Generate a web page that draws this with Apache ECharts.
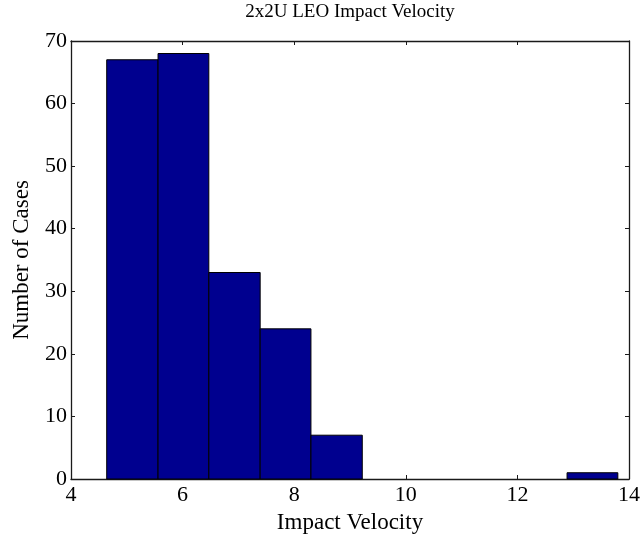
<!DOCTYPE html>
<html>
<head>
<meta charset="utf-8">
<script src="https://cdn.jsdelivr.net/npm/echarts@6/dist/echarts.min.js"></script>
<style>html,body{margin:0;padding:0;background:#fff;}#c{width:643px;height:543px;}</style>
</head>
<body>
<div id="c"></div>
<script>
var titleText = "2x2U LEO Impact Velocity";
var xName = "Impact Velocity";
var yName = "Number of Cases";
var binEdges = [4.64, 5.56, 6.47, 7.39, 8.30, 9.22, 10.14, 11.05, 11.97, 12.89, 13.80];
var counts = [67, 68, 33, 24, 7, 0, 0, 0, 0, 1];
var xTicks = [4, 6, 8, 10, 12, 14];
var yTicks = [0, 10, 20, 30, 40, 50, 60, 70];

var data = counts.map(function (c, i) { return [binEdges[i], binEdges[i + 1], c]; });
var font = "'Liberation Serif', 'Times New Roman', serif";
var chart = echarts.init(document.getElementById('c'), null, { renderer: 'canvas' });
var axisLine = { show: true, onZero: false, lineStyle: { color: '#1a1a1a', width: 1.3 } };
var tick = { show: true, inside: true, length: 4, lineStyle: { color: '#1a1a1a', width: 1 } };
chart.setOption({
  animation: false,
  backgroundColor: '#fff',
  title: { text: titleText, left: 350, textAlign: 'center', top: 3, padding: 0,
    textStyle: { fontFamily: font, fontSize: 19, fontWeight: 'normal', color: '#000' } },
  grid: { left: 71, right: 14, top: 41, bottom: 64 },
  xAxis: [
    { type: 'value', min: xTicks[0], max: xTicks[xTicks.length - 1], interval: 2, position: 'bottom',
      axisLine: axisLine, axisTick: tick, splitLine: { show: false },
      axisLabel: { color: '#000', fontFamily: font, fontSize: 22, margin: 5 },
      name: xName, nameLocation: 'middle', nameGap: 32,
      nameTextStyle: { color: '#000', fontFamily: font, fontSize: 23 } },
    { type: 'value', min: xTicks[0], max: xTicks[xTicks.length - 1], interval: 2, position: 'top',
      axisLine: axisLine, axisTick: tick, splitLine: { show: false }, axisLabel: { show: false } }
  ],
  yAxis: [
    { type: 'value', min: yTicks[0], max: yTicks[yTicks.length - 1], interval: 10, position: 'left',
      axisLine: axisLine, axisTick: tick, splitLine: { show: false },
      axisLabel: { color: '#000', fontFamily: font, fontSize: 22, margin: 4 },
      name: yName, nameLocation: 'middle', nameGap: 38,
      nameTextStyle: { color: '#000', fontFamily: font, fontSize: 23 } },
    { type: 'value', min: yTicks[0], max: yTicks[yTicks.length - 1], interval: 10, position: 'right',
      axisLine: axisLine, axisTick: tick, splitLine: { show: false }, axisLabel: { show: false } }
  ],
  series: [{
    type: 'custom',
    xAxisIndex: 0, yAxisIndex: 0,
    data: data,
    renderItem: function (params, api) {
      if (api.value(2) <= 0) return null;
      var p0 = api.coord([api.value(0), 0]);
      var p1 = api.coord([api.value(1), api.value(2)]);
      return {
        type: 'rect',
        shape: { x: p0[0], y: p1[1], width: p1[0] - p0[0], height: p0[1] - p1[1] },
        style: { fill: '#00008f', stroke: '#000', lineWidth: 1 }
      };
    }
  }]
});
</script>
</body>
</html>
